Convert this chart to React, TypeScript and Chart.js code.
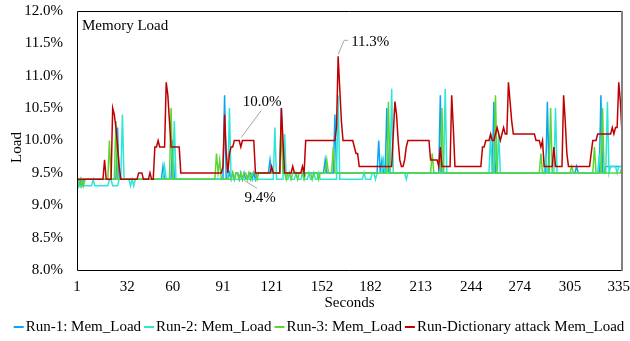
import React, { useEffect, useRef } from 'react';
import { Chart, registerables } from 'chart.js';

Chart.register(...registerables);

const FONT = "'Liberation Serif', 'Times New Roman', serif";

const xTickLabels = [1, 32, 60, 91, 121, 152, 182, 213, 244, 274, 305, 335];
const yTickValues = [8.0, 8.5, 9.0, 9.5, 10.0, 10.5, 11.0, 11.5, 12.0];

const seriesNames = [
  'Run-1: Mem_Load',
  'Run-2: Mem_Load',
  'Run-3: Mem_Load',
  'Run-Dictionary attack Mem_Load',
];
const seriesColors = ['#0aa5f5', '#2ee6d6', '#5cd632', '#c00000'];

const run1 = [
  9.4,9.3,9.4,9.3,9.4,9.4,9.4,9.4,9.4,9.4,
  9.4,9.4,9.4,9.4,9.4,9.4,9.4,9.4,9.4,9.4,
  9.4,9.4,9.4,9.4,9.4,10.2,9.4,9.4,9.4,9.4,
  9.4,9.4,9.4,9.4,9.4,9.4,9.4,9.4,9.4,9.4,
  9.4,9.4,9.4,9.4,9.4,9.4,9.4,9.4,9.4,9.4,
  9.4,9.4,9.4,9.6,9.4,9.4,9.4,9.4,9.4,10.0,
  9.4,9.4,9.4,9.4,9.4,9.4,9.4,9.4,9.4,9.4,
  9.4,9.4,9.4,9.4,9.4,9.4,9.4,9.4,9.4,9.4,
  9.4,9.4,9.4,9.4,9.4,9.4,9.4,9.4,9.4,9.4,
  9.4,10.7,9.4,9.4,9.5,9.4,9.5,9.4,9.5,9.5,
  9.4,9.5,9.4,9.5,9.4,9.4,9.5,9.5,9.4,9.5,
  9.4,9.5,9.5,9.5,9.5,9.5,9.5,9.5,9.5,9.7,
  9.5,9.5,9.5,9.5,9.5,9.5,10.5,9.5,9.5,9.5,
  9.5,9.5,9.5,9.5,9.5,9.5,9.5,9.5,9.5,9.5,
  9.5,9.5,9.5,9.5,9.5,9.5,9.5,9.5,9.5,9.5,
  9.5,9.5,9.5,9.7,9.5,9.5,9.5,9.5,9.5,10.4,
  9.5,9.5,9.5,9.5,9.5,9.5,9.5,9.5,9.5,9.5,
  9.5,9.5,9.5,9.5,9.5,9.5,9.5,9.5,9.5,9.5,
  9.5,9.5,9.5,9.5,9.5,9.5,10.0,9.5,9.7,9.5,
  9.5,10.5,9.5,9.5,9.5,9.5,9.5,9.5,9.5,9.5,
  9.5,9.5,9.5,9.5,9.5,9.5,9.5,9.5,9.5,9.5,
  9.5,9.5,9.5,9.5,9.5,9.5,9.5,9.5,9.5,9.5,
  9.5,9.5,9.5,9.5,10.7,9.5,9.5,9.5,9.5,9.5,
  9.5,9.5,9.5,9.5,9.5,9.5,9.5,9.5,9.5,9.5,
  9.5,9.5,9.5,9.5,9.5,9.5,9.5,9.5,9.5,9.5,
  9.5,9.5,9.5,9.5,9.5,9.5,9.5,10.6,9.5,9.5,
  9.5,9.5,9.5,9.5,9.5,9.5,9.5,9.5,9.5,9.5,
  9.5,9.5,9.5,9.5,9.5,9.5,9.5,9.5,9.5,9.5,
  9.5,9.5,9.5,9.5,9.5,9.5,9.5,9.5,9.5,9.5,
  10.6,9.5,9.5,9.5,9.5,9.5,9.5,9.5,9.5,9.5,
  9.5,9.5,9.5,9.5,9.5,9.5,9.5,9.5,9.6,9.5,
  9.5,9.5,9.5,9.5,9.5,9.5,9.5,9.5,9.5,9.5,
  9.5,9.5,9.5,10.7,9.5,9.5,9.6,9.6,9.6,9.6,
  9.6,9.6,9.6,9.6,9.6,9.6,9.6,
];

const run2 = [
  9.4,9.3,9.3,9.3,9.3,9.3,9.3,9.3,9.3,9.3,
  9.4,9.3,9.3,9.3,9.3,9.3,9.3,9.3,9.3,9.3,
  9.4,9.4,9.3,9.3,9.3,9.3,9.4,9.4,10.4,9.4,
  9.4,9.4,9.4,9.3,9.4,9.3,9.4,9.4,9.4,9.4,
  9.4,9.4,9.4,9.4,9.4,9.4,9.4,9.4,9.4,9.4,
  9.4,9.4,9.4,9.4,9.6,9.4,9.4,9.4,9.4,9.4,
  10.3,9.4,9.4,9.4,9.4,9.4,9.4,9.4,9.4,9.4,
  9.4,9.4,9.4,9.4,9.4,9.4,9.4,9.4,9.4,9.4,
  9.4,9.4,9.4,9.4,9.4,9.4,9.4,9.4,9.4,9.4,
  9.4,9.4,9.4,9.4,10.5,9.4,9.4,9.4,9.4,9.4,
  9.4,9.4,9.4,9.4,9.4,9.4,9.4,9.4,9.4,9.4,
  9.4,9.4,9.4,9.4,9.4,9.4,9.4,9.4,9.4,9.4,
  9.4,9.4,10.2,9.4,9.4,9.4,9.4,9.4,10.1,9.4,
  9.4,9.5,9.4,9.4,9.4,9.5,9.4,9.4,9.4,9.5,
  9.4,9.4,9.4,9.5,9.4,9.4,9.5,9.4,9.4,9.5,
  9.4,9.4,9.4,9.4,9.4,9.4,9.4,9.4,9.4,9.4,
  9.4,10.7,9.4,9.4,9.4,9.4,9.4,9.4,9.4,9.4,
  9.4,9.4,9.4,9.4,9.4,9.4,9.4,9.5,9.4,9.4,
  9.4,9.4,9.5,9.5,9.4,9.5,9.5,9.5,9.5,9.7,
  9.5,9.5,9.5,9.5,10.8,9.5,9.5,9.5,9.5,9.5,
  9.5,9.5,9.5,9.4,9.5,9.5,9.5,9.5,9.5,9.5,
  9.5,9.5,9.5,9.5,9.5,9.5,9.5,9.5,9.5,9.5,
  9.5,9.5,9.5,9.5,9.5,9.5,9.5,10.8,9.5,9.5,
  9.5,9.5,9.5,9.5,9.5,9.5,9.5,9.5,9.5,9.5,
  9.5,9.5,9.5,9.5,9.5,9.5,9.5,9.5,9.5,9.5,
  9.5,9.5,9.5,9.5,9.5,10.1,9.5,9.5,9.9,9.5,
  10.1,9.5,9.5,9.5,9.5,9.5,9.5,9.5,9.5,9.5,
  9.5,9.5,9.5,9.5,9.5,9.5,9.5,9.5,9.5,9.5,
  9.5,9.5,9.5,9.5,9.5,9.5,9.5,9.5,9.5,9.8,
  9.5,9.5,9.5,9.5,9.5,10.5,9.5,9.5,9.5,9.5,
  9.5,9.5,9.5,9.5,9.5,9.5,9.5,9.5,9.5,9.5,
  9.5,9.5,9.5,9.5,9.5,9.5,9.5,9.5,9.5,9.5,
  9.5,9.5,9.8,9.5,9.5,9.5,9.5,10.6,9.5,9.6,
  9.6,9.6,9.6,9.5,9.6,9.6,9.6,
];

const run3 = [
  9.4,9.4,9.3,9.4,9.3,9.4,9.4,9.4,9.4,9.4,
  9.4,9.4,9.4,9.4,9.4,9.4,9.4,9.4,9.4,9.4,
  10.0,9.4,9.4,9.4,10.3,9.4,9.4,9.4,9.4,9.4,
  9.4,9.4,9.4,9.4,9.4,9.4,9.4,9.4,9.4,9.4,
  9.4,9.4,9.4,9.4,9.4,9.4,9.4,9.4,9.4,9.4,
  9.4,9.4,9.4,9.4,9.4,9.4,9.4,9.4,10.5,9.4,
  9.4,9.4,9.4,9.4,9.4,9.4,9.4,9.4,9.4,9.4,
  9.4,9.4,9.4,9.4,9.4,9.4,9.4,9.4,9.4,9.4,
  9.4,9.4,9.4,9.4,9.4,9.4,9.8,9.5,9.7,9.4,
  9.4,9.4,9.4,9.4,9.4,9.4,9.5,9.4,9.5,9.5,
  9.4,9.5,9.4,9.5,9.5,9.4,9.5,9.4,9.5,9.5,
  9.5,9.4,9.5,9.5,9.5,9.5,9.5,9.5,9.5,9.5,
  9.5,9.5,9.5,9.5,9.5,9.5,10.2,9.5,9.5,9.4,
  9.5,9.5,9.4,9.5,9.5,9.5,9.4,9.5,9.5,9.5,
  9.4,9.5,9.5,9.5,9.5,9.4,9.5,9.5,9.5,9.4,
  9.5,9.5,9.5,9.5,9.7,9.5,9.5,9.5,9.9,9.5,
  9.5,9.5,9.5,9.5,9.5,9.5,9.5,9.5,9.5,9.5,
  9.5,9.5,9.5,9.5,9.5,9.5,9.5,9.5,9.5,9.5,
  9.5,9.5,9.5,9.5,9.5,9.5,9.5,9.5,9.5,9.5,
  9.5,9.5,10.6,9.5,9.5,9.5,9.5,9.5,9.5,9.5,
  9.5,9.5,9.5,9.5,9.5,9.5,9.5,9.5,9.5,9.5,
  9.5,9.5,9.5,9.5,9.5,9.5,9.5,9.5,9.5,9.8,
  9.5,9.5,9.5,9.5,9.5,10.5,9.5,9.5,9.5,9.5,
  9.5,9.5,9.5,9.5,9.5,9.5,9.5,9.5,9.5,9.5,
  9.5,9.5,9.5,9.5,9.5,9.5,9.5,9.5,9.5,9.5,
  9.5,9.5,9.5,9.5,9.5,9.5,9.5,9.5,10.7,9.5,
  9.5,9.5,9.5,9.5,9.5,9.5,9.5,9.5,9.5,9.5,
  9.5,9.5,9.5,9.5,9.5,9.5,9.5,9.5,9.5,9.5,
  9.5,9.5,9.5,9.5,9.5,9.5,9.8,9.5,9.5,9.5,
  9.5,9.5,10.5,9.5,9.5,9.5,9.5,9.5,9.5,9.5,
  9.5,9.5,9.5,9.5,9.5,9.6,9.5,9.5,9.5,9.5,
  9.5,9.5,9.5,9.5,9.5,9.5,9.5,9.5,9.5,9.9,
  9.5,9.5,9.5,9.5,10.5,9.5,9.5,9.5,9.5,9.5,
  9.5,9.5,9.5,9.5,9.5,9.5,9.6,
];

const attack = [
  9.4,9.4,9.4,9.4,9.4,9.4,9.4,9.4,9.4,9.4,
  9.4,9.4,9.4,9.4,9.4,9.4,9.4,9.7,9.4,9.4,
  9.4,9.4,10.5,10.4,10.2,9.9,9.6,9.4,9.4,9.4,
  9.4,9.4,9.4,9.4,9.4,9.4,9.4,9.4,9.5,9.5,
  9.5,9.4,9.4,9.4,9.4,9.5,9.4,9.4,9.9,9.9,
  10.0,9.9,9.9,9.9,9.9,10.9,10.7,10.3,9.9,9.9,
  9.9,9.9,9.9,9.9,9.5,9.5,9.5,9.5,9.5,9.5,
  9.5,9.5,9.5,9.5,9.5,9.5,9.5,9.5,9.5,9.5,
  9.5,9.5,9.5,9.5,9.5,9.5,9.5,9.5,9.5,9.5,
  9.6,10.4,9.8,9.5,9.8,9.9,9.9,10.0,10.0,10.0,
  10.0,9.9,10.0,10.0,10.0,10.0,10.0,10.0,10.0,10.0,
  9.5,9.5,9.5,9.5,9.5,9.5,9.5,9.5,9.5,9.5,
  9.6,9.5,9.5,9.5,9.5,9.5,10.5,10.0,9.5,9.5,
  9.5,9.5,9.5,9.6,9.5,9.5,9.5,9.5,9.5,9.6,
  9.5,10.0,10.0,10.0,10.0,10.0,10.0,10.0,10.0,10.0,
  10.0,10.0,10.0,10.0,10.0,10.0,10.0,10.0,10.0,10.0,
  10.2,11.3,10.8,10.3,10.0,10.0,10.0,10.0,10.0,10.0,
  10.0,9.9,9.8,9.8,9.6,9.6,9.6,9.6,9.6,9.6,
  9.6,9.6,9.6,9.6,9.6,9.6,9.6,9.6,9.6,9.6,
  9.6,9.6,9.6,9.6,9.6,10.1,10.6,10.4,10.0,9.7,
  9.6,9.6,9.7,9.9,10.0,10.0,10.0,10.0,10.0,10.0,
  10.0,10.0,10.0,10.0,10.0,10.0,10.0,10.0,9.7,9.7,
  9.7,9.7,9.7,9.6,9.9,9.6,9.6,9.6,9.6,9.6,
  9.6,10.7,10.2,9.6,9.6,9.6,9.6,9.6,9.6,9.6,
  9.6,9.6,9.6,9.6,9.6,9.6,9.6,9.6,9.6,9.6,
  9.9,9.9,10.0,10.0,10.0,10.1,10.0,10.0,10.1,10.2,
  10.1,10.0,10.1,10.2,10.1,10.1,10.9,10.6,10.3,10.1,
  10.1,10.1,10.1,10.1,10.1,10.1,10.1,10.1,10.1,10.1,
  10.1,10.1,10.1,10.0,10.0,10.0,9.9,10.0,9.6,9.6,
  9.6,9.6,9.6,9.6,9.9,9.6,9.6,9.6,9.6,9.6,
  10.7,10.3,9.8,9.6,9.6,9.6,9.6,9.6,9.6,9.6,
  9.6,9.6,9.6,9.6,9.6,9.6,9.6,9.8,10.0,10.0,
  10.0,10.1,10.1,10.1,10.1,10.1,10.1,10.1,10.1,10.1,
  10.2,10.1,10.2,10.2,10.9,10.6,10.1,
];

const seriesValues = [run1, run2, run3, attack];

// Data labels: [series index, point number (seconds), text]
const callouts: [number, number, string][] = [
  [3, 101, '10.0%'],
  [1, 104, '9.4%'],
  [3, 162, '11.3%'],
];
// Label layout for each callout (offsets from the point, leader path)
const calloutLayout = [
  { tx: 23, ty: -38, align: 'center', path: [[2, -3], [22, -30]] },
  { tx: 16, ty: 19, align: 'center', path: [[0, 1], [13, 9]] },
  { tx: 13, ty: -14, align: 'left', path: [[0, -2], [6, -16], [10, -16]] },
];

const decorPlugin = {
  id: 'decor',
  afterDatasetsDraw(chart: any) {
    const { ctx, chartArea: a, scales } = chart;
    const xs = scales.x;
    const ys = scales.y;
    ctx.save();
    // frame
    ctx.strokeStyle = '#000';
    ctx.lineWidth = 1;
    ctx.beginPath();
    ctx.moveTo(a.right, a.top + 0.5);
    ctx.lineTo(a.left + 0.5, a.top + 0.5);
    ctx.lineTo(a.left + 0.5, a.bottom + 0.5);
    ctx.lineTo(a.right, a.bottom + 0.5);
    ctx.stroke();
    ctx.strokeStyle = '#808080';
    ctx.lineWidth = 2;
    ctx.beginPath();
    ctx.moveTo(a.right, a.top);
    ctx.lineTo(a.right, a.bottom + 1);
    ctx.stroke();

    // panel title
    ctx.fillStyle = '#000';
    ctx.font = `15px ${FONT}`;
    ctx.textBaseline = 'middle';
    ctx.textAlign = 'left';
    ctx.fillText('Memory Load', a.left + 5, a.top + 15);

    // callouts
    callouts.forEach(([s, sec, text], k) => {
      const lay = calloutLayout[k];
      const px = xs.getPixelForValue(sec);
      const py = ys.getPixelForValue(seriesValues[s][sec - 1]);
      ctx.strokeStyle = '#a6a6a6';
      ctx.lineWidth = 1;
      ctx.beginPath();
      lay.path.forEach(([dx, dy], j) => {
        if (j === 0) ctx.moveTo(px + dx, py + dy);
        else ctx.lineTo(px + dx, py + dy);
      });
      ctx.stroke();
      ctx.fillStyle = '#000';
      ctx.textAlign = lay.align as CanvasTextAlign;
      ctx.textBaseline = 'middle';
      ctx.fillText(text, px + lay.tx, py + lay.ty);
    });

    // axis titles
    ctx.textAlign = 'center';
    ctx.textBaseline = 'middle';
    ctx.fillText('Seconds', (a.left + a.right) / 2, 303);
    ctx.save();
    ctx.translate(17, (a.top + a.bottom) / 2 + 7);
    ctx.rotate(-Math.PI / 2);
    ctx.fillText('Load', 0, 0);
    ctx.restore();

    // legend
    const lineW = 10;
    const gapText = 2;
    const gapItem = 3;
    const widths = seriesNames.map((n) => ctx.measureText(n).width);
    const total = widths.reduce((p, w) => p + lineW + gapText + w, 0) + gapItem * (seriesNames.length - 1);
    let lx = chart.width / 2 + 4 - total / 2;
    const ly = 327;
    seriesNames.forEach((n, i) => {
      ctx.strokeStyle = seriesColors[i];
      ctx.lineWidth = 2;
      ctx.beginPath();
      ctx.moveTo(lx, ly);
      ctx.lineTo(lx + lineW, ly);
      ctx.stroke();
      ctx.fillStyle = '#000';
      ctx.textAlign = 'left';
      ctx.fillText(n, lx + lineW + gapText, ly);
      lx += lineW + gapText + widths[i] + gapItem;
    });
    ctx.restore();
  },
};

export default function App() {
  const ref = useRef<HTMLCanvasElement | null>(null);
  useEffect(() => {
    if (!ref.current) return;
    const datasets = seriesValues.map((vals, i) => ({
      label: seriesNames[i],
      data: vals.map((v, j) => ({ x: j + 1, y: v })),
      borderColor: seriesColors[i],
      backgroundColor: seriesColors[i],
      borderWidth: 1.5,
      pointRadius: 0,
      tension: 0,
      fill: false,
      order: 3 - i,
    }));
    const chart = new Chart(ref.current, {
      type: 'line',
      data: { datasets },
      plugins: [decorPlugin],
      options: {
        responsive: false,
        animation: false,
        layout: { padding: { left: 0, right: 8, top: 11, bottom: 0 } },
        plugins: { legend: { display: false }, tooltip: { enabled: false } },
        scales: {
          x: {
            type: 'linear',
            min: 1,
            max: 337,
            grid: { display: false, drawTicks: false },
            border: { display: false },
            afterBuildTicks: (s: any) => {
              s.ticks = xTickLabels.map((v) => ({ value: v }));
            },
            afterFit: (s: any) => {
              s.height = 71;
              s.paddingLeft = 0;
              s.paddingRight = 0;
            },
            ticks: {
              autoSkip: false,
              maxRotation: 0,
              padding: 8,
              color: '#000',
              font: { family: FONT, size: 15 },
              callback: (v: any) => String(v),
            },
          },
          y: {
            min: 8,
            max: 12,
            grid: { display: false, drawTicks: false },
            border: { display: false },
            afterBuildTicks: (s: any) => {
              s.ticks = yTickValues.map((v) => ({ value: v }));
            },
            afterFit: (s: any) => {
              s.width = 77;
              s.paddingTop = 0;
              s.paddingBottom = 0;
            },
            ticks: {
              padding: 14,
              color: '#000',
              font: { family: FONT, size: 15 },
              callback: (v: any) => Number(v).toFixed(1) + '%',
            },
          },
        },
      },
    });
    return () => chart.destroy();
  }, []);
  return (
    <div style={{ position: 'absolute', left: 0, top: 0, width: 630, height: 341, background: '#fff' }}>
      <canvas ref={ref} width={630} height={341} style={{ width: 630, height: 341 }} />
    </div>
  );
}
